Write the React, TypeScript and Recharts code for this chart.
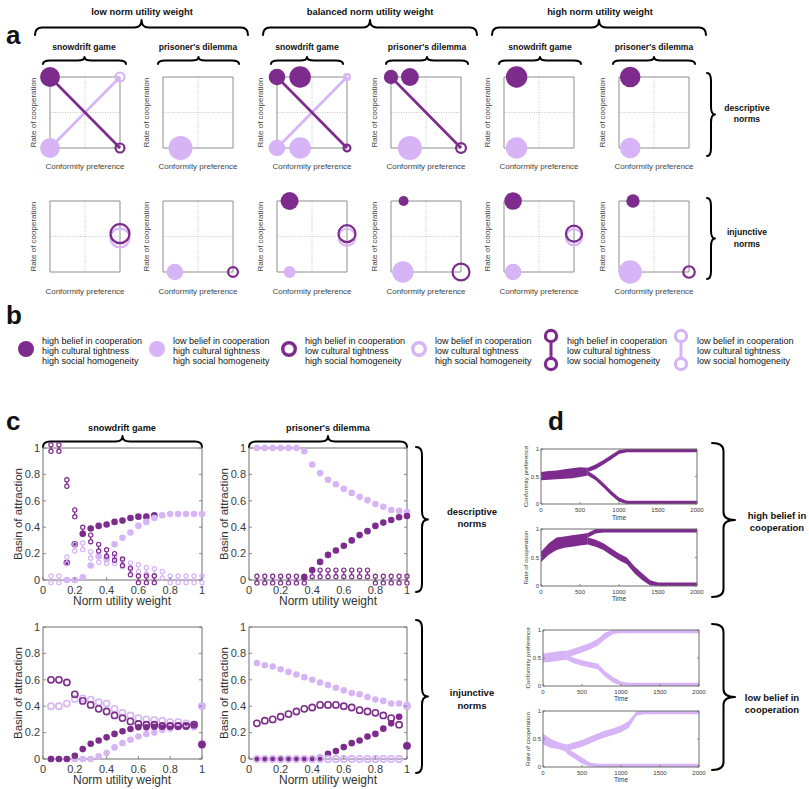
import React from 'react';
import { ScatterChart, Scatter, ComposedChart, Area, XAxis, YAxis, ZAxis, ReferenceLine } from 'recharts';

const DARK = '#7d2b8c';
const LIGHT = '#d7b4f6';
const AXIS = '#6f6f6f';
const INK = '#3a3a3a';
const FONT = '"Liberation Sans", Arial, Helvetica, sans-serif';
const NARROW = '"Liberation Sans Narrow", "Liberation Sans", Arial, sans-serif';

// ---------- panel a: equilibria (x = conformity preference, y = rate of cooperation, z = basin size)
type Kind = 'darkFilled' | 'lightFilled' | 'darkRing' | 'lightRing';
type Mark = { kind: Kind; x: number; y: number; z: number };
type Link = { kind: 'dark' | 'light'; pts: { x: number; y: number }[] };

const aLowSdDesc: Mark[] = [
  { kind: 'darkFilled', x: 0, y: 1, z: 0.69 },
  { kind: 'lightFilled', x: 0, y: 0, z: 0.69 },
  { kind: 'darkRing', x: 1, y: 0, z: 0.14 },
  { kind: 'lightRing', x: 1, y: 1, z: 0.14 },
];
const crossLinks: Link[] = [
  { kind: 'light', pts: [{ x: 0, y: 0 }, { x: 1, y: 1 }] },
  { kind: 'dark', pts: [{ x: 0, y: 1 }, { x: 1, y: 0 }] },
];
const darkLink: Link[] = [{ kind: 'dark', pts: [{ x: 0, y: 1 }, { x: 1, y: 0 }] }];
const aLowPdDesc: Mark[] = [{ kind: 'lightFilled', x: 0.25, y: 0, z: 1 }];
const aBalSdDesc: Mark[] = [
  { kind: 'darkFilled', x: 0, y: 1, z: 0.48 },
  { kind: 'darkFilled', x: 0.33, y: 1, z: 0.81 },
  { kind: 'lightFilled', x: 0, y: 0, z: 0.48 },
  { kind: 'lightFilled', x: 0.33, y: 0, z: 0.81 },
  { kind: 'darkRing', x: 1, y: 0, z: 0.08 },
  { kind: 'lightRing', x: 1, y: 1, z: 0.06 },
];
const aBalPdDesc: Mark[] = [
  { kind: 'darkFilled', x: 0, y: 1, z: 0.36 },
  { kind: 'darkFilled', x: 0.27, y: 1, z: 0.56 },
  { kind: 'lightFilled', x: 0.27, y: 0, z: 1 },
  { kind: 'darkRing', x: 1, y: 0, z: 0.17 },
];
const aHighSdDesc: Mark[] = [
  { kind: 'darkFilled', x: 0.18, y: 1, z: 0.8 },
  { kind: 'lightFilled', x: 0.18, y: 0, z: 0.8 },
];
const aHighPdDesc: Mark[] = [
  { kind: 'darkFilled', x: 0.16, y: 1, z: 0.74 },
  { kind: 'lightFilled', x: 0.16, y: 0, z: 0.74 },
];
const aLowSdInj: Mark[] = [
  { kind: 'lightRing', x: 1, y: 0.48, z: 0.63 },
  { kind: 'darkRing', x: 1, y: 0.54, z: 0.63 },
];
const aLowPdInj: Mark[] = [
  { kind: 'lightFilled', x: 0.17, y: 0, z: 0.48 },
  { kind: 'darkRing', x: 1, y: 0, z: 0.17 },
];
const aBalSdInj: Mark[] = [
  { kind: 'darkFilled', x: 0.18, y: 1, z: 0.56 },
  { kind: 'lightFilled', x: 0.18, y: 0, z: 0.25 },
  { kind: 'lightRing', x: 1, y: 0.49, z: 0.5 },
  { kind: 'darkRing', x: 1, y: 0.54, z: 0.5 },
];
const aBalPdInj: Mark[] = [
  { kind: 'darkFilled', x: 0.18, y: 1, z: 0.17 },
  { kind: 'lightFilled', x: 0.17, y: 0, z: 0.8 },
  { kind: 'darkRing', x: 1, y: 0, z: 0.5 },
];
const aHighSdInj: Mark[] = [
  { kind: 'darkFilled', x: 0.13, y: 1, z: 0.54 },
  { kind: 'lightFilled', x: 0.13, y: 0, z: 0.48 },
  { kind: 'lightRing', x: 1, y: 0.49, z: 0.45 },
  { kind: 'darkRing', x: 1, y: 0.54, z: 0.45 },
];
const aHighPdInj: Mark[] = [
  { kind: 'darkFilled', x: 0.2, y: 1, z: 0.31 },
  { kind: 'lightFilled', x: 0.16, y: 0, z: 0.95 },
  { kind: 'darkRing', x: 1, y: 0, z: 0.23 },
];

// ---------- panel c: basin of attraction vs norm utility weight
const weights = [0.05, 0.1, 0.15, 0.2, 0.25, 0.3, 0.35, 0.4, 0.45, 0.5, 0.55, 0.6, 0.65, 0.7, 0.75, 0.8, 0.85, 0.9, 0.95, 1];
type V = number | null;

const sdDescDarkFilled: V[] = [null, null, 0.13, 0.27, 0.35, 0.39, 0.41, 0.42, 0.44, 0.45, 0.47, 0.48, 0.48, 0.49, null, null, null, null, null, null];
const sdDescLightFilled: V[] = [null, null, 0, 0, 0.02, 0.11, 0.18, 0.16, 0.27, 0.32, 0.36, 0.41, 0.44, 0.47, 0.49, 0.5, 0.5, 0.5, 0.5, 0.5];
const sdDescDarkBell: V[] = [1, 1, 0.735, 0.505, 0.375, 0.315, 0.245, 0.205, 0.175, 0.135, 0.065, 0.005, 0.005, 0.005, null, null, null, null, null, null];
const sdDescLightBell: V[] = [0.005, 0.005, 0.15, 0.245, 0.255, 0.19, 0.16, 0.15, 0.15, 0.125, 0.105, 0.09, 0.07, 0.06, 0.04, 0.005, 0.005, 0.005, 0.005, 0.005];

const pdDescLightFilled: V[] = [1, 1, 1, 1, 1, 1, 0.975, 0.875, 0.81, 0.76, 0.725, 0.69, 0.66, 0.63, 0.605, 0.575, 0.555, 0.53, 0.525, 0.515];
const pdDescDarkFilled: V[] = [null, null, null, null, null, null, 0.02, 0.076, 0.137, 0.19, 0.223, 0.26, 0.3, 0.34, 0.37, 0.41, 0.435, 0.455, 0.475, 0.485];
const pdDescDarkBell: V[] = [0.003, 0.003, 0.003, 0.003, 0.003, 0.003, 0.003, 0.05, 0.05, 0.05, 0.05, 0.05, 0.05, 0.05, 0.05, 0.003, 0.003, 0.003, 0.003, 0.003];

const sdInjDarkRing: V[] = [0.6, 0.6, 0.58, 0.49, 0.44, 0.41, 0.38, 0.36, 0.33, 0.31, 0.285, 0.265, 0.26, 0.26, 0.25, 0.25, 0.25, 0.25, 0.26, 0.11];
const sdInjLightRing: V[] = [0.4, 0.4, 0.42, 0.455, 0.46, 0.45, 0.43, 0.42, 0.38, 0.35, 0.33, 0.31, 0.3, 0.295, 0.29, 0.28, 0.28, 0.27, 0.26, 0.4];
const sdInjDarkFilled: V[] = [0, 0, 0, 0.025, 0.075, 0.116, 0.14, 0.164, 0.19, 0.21, 0.227, 0.24, 0.24, 0.245, 0.25, 0.25, 0.25, 0.25, 0.26, 0.11];
const sdInjLightFilled: V[] = [0, 0, 0, 0, 0, 0, 0.02, 0.045, 0.088, 0.12, 0.146, 0.17, 0.19, 0.2, 0.22, 0.23, 0.24, 0.25, 0.24, 0.4];

const pdInjLightFilled: V[] = [0.727, 0.71, 0.7, 0.68, 0.66, 0.64, 0.62, 0.6, 0.58, 0.56, 0.54, 0.52, 0.5, 0.49, 0.47, 0.45, 0.44, 0.42, 0.42, 0.41];
const pdInjDarkRing: V[] = [0.27, 0.29, 0.3, 0.32, 0.34, 0.36, 0.38, 0.39, 0.41, 0.41, 0.41, 0.4, 0.39, 0.37, 0.36, 0.35, 0.33, 0.31, 0.26, 0.1];
const pdInjDarkFilled: V[] = [0, 0, 0, 0, 0, 0, 0, 0, 0.01, 0.04, 0.06, 0.09, 0.12, 0.14, 0.17, 0.19, 0.23, 0.27, 0.32, 0.1];
const pdInjLightRing: V[] = [0, 0, 0, 0, 0, 0, 0, 0, 0, 0, 0, 0, 0, 0, 0, 0, 0, 0, 0, 0.4];

// ---------- panel d: example trajectories, bands as [low, high]
type B = [number, number] | null;
const dTime = [0, 100, 200, 300, 400, 500, 600, 700, 800, 900, 1000, 1100, 1200, 1300, 1400, 1500, 1600, 1700, 1800, 1900, 2000];

const hiConfTrunk: B[] = [[0.43, 0.58], [0.44, 0.6], [0.45, 0.61], [0.46, 0.63], [0.47, 0.65], [0.49, 0.67], [0.52, 0.66], null, null, null, null, null, null, null, null, null, null, null, null, null, null];
const hiConfUp: B[] = [null, null, null, null, null, null, [0.58, 0.66], [0.63, 0.72], [0.72, 0.8], [0.81, 0.89], [0.91, 0.98], [0.94, 1], [0.94, 1], [0.94, 1], [0.94, 1], [0.94, 1], [0.94, 1], [0.94, 1], [0.94, 1], [0.94, 1], [0.94, 1]];
const hiConfDown: B[] = [null, null, null, null, null, null, [0.52, 0.6], [0.43, 0.51], [0.3, 0.38], [0.16, 0.24], [0.04, 0.12], [0, 0.06], [0, 0.06], [0, 0.06], [0, 0.06], [0, 0.06], [0, 0.06], [0, 0.06], [0, 0.06], [0, 0.06], [0, 0.06]];

const hiCoopTrunk: B[] = [[0.42, 0.6], [0.55, 0.75], [0.63, 0.85], [0.67, 0.87], [0.69, 0.89], [0.71, 0.91], [0.73, 0.93], null, null, null, null, null, null, null, null, null, null, null, null, null, null];
const hiCoopUp: B[] = [null, null, null, null, null, null, [0.85, 0.93], [0.92, 1], [0.94, 1], [0.94, 1], [0.94, 1], [0.94, 1], [0.94, 1], [0.94, 1], [0.94, 1], [0.94, 1], [0.94, 1], [0.94, 1], [0.94, 1], [0.94, 1], [0.94, 1]];
const hiCoopDown: B[] = [null, null, null, null, null, null, [0.73, 0.85], [0.69, 0.81], [0.63, 0.75], [0.54, 0.66], [0.45, 0.57], [0.38, 0.5], [0.22, 0.34], [0.1, 0.22], [0.01, 0.1], [0, 0.06], [0, 0.06], [0, 0.06], [0, 0.06], [0, 0.06], [0, 0.06]];

const loConfTrunk: B[] = [[0.42, 0.58], [0.43, 0.6], [0.45, 0.62], [0.47, 0.63], null, null, null, null, null, null, null, null, null, null, null, null, null, null, null, null, null];
const loConfUp: B[] = [null, null, null, [0.52, 0.63], [0.55, 0.67], [0.6, 0.72], [0.65, 0.77], [0.72, 0.84], [0.84, 0.96], [0.93, 1], [0.94, 1], [0.94, 1], [0.94, 1], [0.94, 1], [0.94, 1], [0.94, 1], [0.94, 1], [0.94, 1], [0.94, 1], [0.94, 1], [0.94, 1]];
const loConfDown: B[] = [null, null, null, [0.47, 0.57], [0.4, 0.5], [0.36, 0.46], [0.33, 0.43], [0.3, 0.4], [0.16, 0.26], [0.06, 0.16], [0.01, 0.08], [0, 0.06], [0, 0.06], [0, 0.06], [0, 0.06], [0, 0.06], [0, 0.06], [0, 0.06], [0, 0.06], [0, 0.06], [0, 0.06]];

const loCoopTrunk: B[] = [[0.4, 0.6], [0.34, 0.5], [0.32, 0.44], [0.27, 0.4], null, null, null, null, null, null, null, null, null, null, null, null, null, null, null, null, null];
const loCoopUp: B[] = [null, null, null, [0.29, 0.4], [0.32, 0.44], [0.36, 0.48], [0.42, 0.54], [0.48, 0.6], [0.53, 0.65], [0.57, 0.69], [0.62, 0.74], [0.7, 0.82], [0.92, 1], [0.94, 1], [0.94, 1], [0.94, 1], [0.94, 1], [0.94, 1], [0.94, 1], [0.94, 1], [0.94, 1]];
const loCoopDown: B[] = [null, null, null, [0.24, 0.34], [0.15, 0.26], [0.06, 0.17], [0.01, 0.08], [0, 0.06], [0, 0.06], [0, 0.06], [0, 0.06], [0, 0.06], [0, 0.06], [0, 0.06], [0, 0.06], [0, 0.06], [0, 0.06], [0, 0.06], [0, 0.06], [0, 0.06], [0, 0.06]];

// ---------- legend b
const legendItems: { kind: string; lines: string[] }[] = [
  { kind: 'darkFilled', lines: ['high belief in cooperation', 'high cultural tightness', 'high social homogeneity'] },
  { kind: 'lightFilled', lines: ['low belief in cooperation', 'high cultural tightness', 'high social homogeneity'] },
  { kind: 'darkRing', lines: ['high belief in cooperation', 'low cultural tightness', 'high social homogeneity'] },
  { kind: 'lightRing', lines: ['low belief in cooperation', 'low cultural tightness', 'high social homogeneity'] },
  { kind: 'darkBell', lines: ['high belief in cooperation', 'low cultural tightness', 'low social homogeneity'] },
  { kind: 'lightBell', lines: ['low belief in cooperation', 'low cultural tightness', 'low social homogeneity'] },
];

// ---------- helpers
const pts = (vals: V[]) =>
  weights.map((x, i) => ({ x, y: vals[i] })).filter((p) => p.y !== null);

const dRows = (trunk: B[], up: B[], down: B[]) =>
  dTime.map((t, i) => ({ t, trunk: trunk[i], up: up[i], down: down[i] }));

const bottomTick = (fs: number, len: number, dy: number) => (p: any) => (
  <g>
    <line x1={p.x} x2={p.x} y1={p.y} y2={p.y - len} stroke={AXIS} strokeWidth={0.8} />
    <text x={p.x} y={p.y + dy} textAnchor="middle" fontSize={fs} fill={INK} fontFamily={FONT}>
      {p.payload.value}
    </text>
  </g>
);
const leftTick = (fs: number, len: number, dx: number) => (p: any) => (
  <g>
    <line x1={p.x} x2={p.x + len} y1={p.y} y2={p.y} stroke={AXIS} strokeWidth={0.8} />
    <text x={p.x - dx} y={p.y} dy="0.35em" textAnchor="end" fontSize={fs} fill={INK} fontFamily={FONT}>
      {p.payload.value}
    </text>
  </g>
);
const topTick = (len: number) => (p: any) => (
  <line x1={p.x} x2={p.x} y1={p.y} y2={p.y + len} stroke={AXIS} strokeWidth={0.8} />
);
const rightTick = (len: number) => (p: any) => (
  <line x1={p.x} x2={p.x - len} y1={p.y} y2={p.y} stroke={AXIS} strokeWidth={0.8} />
);

const dotShape = (color: string) => (p: any) => <circle cx={p.cx} cy={p.cy} r={3.3} fill={color} />;
const ringShape = (color: string) => (p: any) => (
  <circle cx={p.cx} cy={p.cy} r={3.1} fill="none" stroke={color} strokeWidth={1.6} />
);
const bellShape = (color: string) => (p: any) => (
  <g>
    <line x1={p.cx} x2={p.cx} y1={p.cy - 1.3} y2={p.cy + 1.3} stroke={color} strokeWidth={1.3} />
    <circle cx={p.cx} cy={p.cy - 3.3} r={2.1} fill="none" stroke={color} strokeWidth={1.2} />
    <circle cx={p.cx} cy={p.cy + 3.3} r={2.1} fill="none" stroke={color} strokeWidth={1.2} />
  </g>
);

type FrameProps = {
  x: number; y: number; w: number; h: number;
  xDomain: [number, number]; xTicks: number[]; yTicks: number[];
  fs: number; tickLen: number; labelDy: number; labelDx: number;
  yAxisW: number; xAxisH: number;
  data?: any[];
  children: React.ReactNode;
};

function Framed(p: FrameProps) {
  const pad = 8;
  const right = 8;
  const width = p.yAxisW + p.w + 1 + right;
  const height = pad + p.h + p.xAxisH;
  const composed = !!p.data;
  const axes = [
    <XAxis key="xb" xAxisId="b" type="number" dataKey={composed ? 't' : 'x'} domain={p.xDomain} ticks={p.xTicks}
      interval={0} height={p.xAxisH} tickSize={0} tickMargin={0} tickLine={false}
      axisLine={{ stroke: AXIS }} tick={bottomTick(p.fs, p.tickLen, p.labelDy)} />,
    <XAxis key="xt" xAxisId="t" orientation="top" type="number" domain={p.xDomain} ticks={p.xTicks}
      interval={0} height={1} tickSize={0} tickMargin={0} tickLine={false} allowDataOverflow
      axisLine={{ stroke: AXIS }} tick={topTick(p.tickLen)} />,
    <YAxis key="yl" yAxisId="l" type="number" dataKey={composed ? undefined : 'y'} domain={[0, 1]} ticks={p.yTicks}
      interval={0} width={p.yAxisW} tickSize={0} tickMargin={0} tickLine={false}
      axisLine={{ stroke: AXIS }} tick={leftTick(p.fs, p.tickLen, p.labelDx)} />,
    <YAxis key="yr" yAxisId="r" orientation="right" type="number" domain={[0, 1]} ticks={p.yTicks}
      interval={0} width={1} tickSize={0} tickMargin={0} tickLine={false} allowDataOverflow
      axisLine={{ stroke: AXIS }} tick={rightTick(p.tickLen)} />,
  ];
  return (
    <div style={{ position: 'absolute', left: p.x - p.yAxisW, top: p.y - pad }}>
      {composed ? (
        <ComposedChart width={width} height={height} data={p.data} margin={{ top: pad - 1, right, bottom: 0, left: 0 }}>
          {axes}
          {p.children}
        </ComposedChart>
      ) : (
        <ScatterChart width={width} height={height} margin={{ top: pad - 1, right, bottom: 0, left: 0 }}>
          {axes}
          {p.children}
        </ScatterChart>
      )}
    </div>
  );
}

function BasinPlot({ x, y, w, series }: { x: number; y: number; w: number; series: { kind: string; vals: V[] }[] }) {
  const shapeFor = (k: string) => {
    const color = k.startsWith('dark') ? DARK : LIGHT;
    if (k.endsWith('Filled')) return dotShape(color);
    if (k.endsWith('Ring')) return ringShape(color);
    return bellShape(color);
  };
  return (
    <Framed x={x} y={y} w={w} h={132} xDomain={[0, 1]} xTicks={[0, 0.2, 0.4, 0.6, 0.8, 1]}
      yTicks={[0, 0.2, 0.4, 0.6, 0.8, 1]} fs={11} tickLen={3} labelDy={13.5} labelDx={3} yAxisW={40} xAxisH={22}>
      {series.map((s, i) => (
        <Scatter key={i} xAxisId="b" yAxisId="l" data={pts(s.vals)} shape={shapeFor(s.kind)} isAnimationActive={false} />
      ))}
    </Framed>
  );
}

function TrajPlot({ x, y, h, color, rows }: { x: number; y: number; h: number; color: string; rows: any[] }) {
  return (
    <Framed x={x} y={y} w={156} h={h} xDomain={[0, 2000]} xTicks={[0, 500, 1000, 1500, 2000]} yTicks={[0, 0.5, 1]}
      fs={6} tickLen={2} labelDy={7.5} labelDx={2} yAxisW={20} xAxisH={12} data={rows}>
      {['trunk', 'up', 'down'].map((k) => (
        <Area key={k} xAxisId="b" yAxisId="l" dataKey={k} type="linear" stroke="none" fill={color} fillOpacity={1}
          connectNulls={false} isAnimationActive={false} dot={false} activeDot={false} />
      ))}
    </Framed>
  );
}

function Phase({ left, top, marks, links = [] }: { left: number; top: number; marks: Mark[]; links?: Link[] }) {
  const pad = 16;
  const order: Kind[] = ['lightFilled', 'darkFilled', 'lightRing', 'darkRing'];
  return (
    <div style={{ position: 'absolute', left: left - pad, top: top - pad }}>
      <ScatterChart width={70 + 2 * pad} height={71 + 2 * pad} margin={{ top: pad, right: pad, bottom: pad, left: pad }}>
        <XAxis type="number" dataKey="x" domain={[0, 1]} hide />
        <YAxis type="number" dataKey="y" domain={[0, 1]} hide />
        <ZAxis type="number" dataKey="z" domain={[0, 1]} range={[0, 450]} />
        <ReferenceLine x={0.5} stroke="#c4c4c4" strokeDasharray="1 1.5" />
        <ReferenceLine y={0.5} stroke="#c4c4c4" strokeDasharray="1 1.5" />
        <ReferenceLine x={0} stroke="#8e8e8e" />
        <ReferenceLine x={1} stroke="#8e8e8e" />
        <ReferenceLine y={0} stroke="#8e8e8e" />
        <ReferenceLine y={1} stroke="#8e8e8e" />
        {links.map((l, i) => (
          <Scatter key={'l' + i} data={l.pts} line={{ stroke: l.kind === 'dark' ? DARK : LIGHT, strokeWidth: 2.6 }}
            shape={() => <g />} isAnimationActive={false} />
        ))}
        {order.map((k) => {
          const data = marks.filter((m) => m.kind === k);
          if (!data.length) return null;
          const color = k.startsWith('dark') ? DARK : LIGHT;
          const ring = k.endsWith('Ring');
          return (
            <Scatter key={k} data={data} shape="circle" fill={ring ? '#ffffff' : color} fillOpacity={ring ? 0 : 1}
              stroke={ring ? color : 'none'} strokeWidth={ring ? 2.2 : 0} isAnimationActive={false} />
          );
        })}
      </ScatterChart>
    </div>
  );
}

const hBrace = (x1: number, x2: number, y: number, h: number) => {
  const yc = y + h / 2;
  const xm = (x1 + x2) / 2;
  const r = Math.min(7, (x2 - x1) / 6);
  return `M${x1},${y + h} Q${x1},${yc} ${x1 + r},${yc} L${xm - r},${yc} Q${xm},${yc} ${xm},${y} Q${xm},${yc} ${xm + r},${yc} L${x2 - r},${yc} Q${x2},${yc} ${x2},${y + h}`;
};
const vBrace = (x: number, y1: number, y2: number, w: number) => {
  const xc = x + w / 2;
  const ym = (y1 + y2) / 2;
  const r = Math.min(8, (y2 - y1) / 6);
  return `M${x},${y1} Q${xc},${y1} ${xc},${y1 + r} L${xc},${ym - r} Q${xc},${ym} ${x + w},${ym} Q${xc},${ym} ${xc},${ym + r} L${xc},${y2 - r} Q${xc},${y2} ${x},${y2}`;
};

const T = (props: any) => <text fontFamily={FONT} fill="#111" textAnchor="middle" {...props} />;

function Overlay() {
  const braces = [
    hBrace(35, 248, 20, 15), hBrace(263, 477, 20, 15), hBrace(492, 706, 20, 15),
    hBrace(43, 126, 57, 7), hBrace(158, 239, 57, 7), hBrace(271, 343, 57, 7),
    hBrace(386, 468, 57, 7), hBrace(499, 581, 57, 7), hBrace(613, 695, 57, 7),
    vBrace(707, 73, 156, 8), vBrace(707, 198, 279, 8),
    hBrace(43, 202, 436, 11), hBrace(249, 407, 436, 11),
    vBrace(416, 447, 592, 12), vBrace(416, 620, 773, 12),
    vBrace(712, 443, 597, 23), vBrace(712, 624, 770, 23),
  ];
  const cols = [50, 163, 277, 391, 504, 619];
  const legendX = [26, 157, 289, 419, 551, 681];
  return (
    <svg width={809} height={789} style={{ position: 'absolute', left: 0, top: 0 }}>
      {braces.map((d, i) => (
        <path key={i} d={d} fill="none" stroke="#000" strokeWidth={2} strokeLinejoin="round" strokeLinecap="round" />
      ))}
      <T x={6} y={44} textAnchor="start" fontSize={26} fontWeight={700}>a</T>
      <T x={6} y={324} textAnchor="start" fontSize={26} fontWeight={700}>b</T>
      <T x={6} y={430} textAnchor="start" fontSize={26} fontWeight={700}>c</T>
      <T x={548} y={430} textAnchor="start" fontSize={26} fontWeight={700}>d</T>

      <T x={142} y={15} fontSize={9.4} fontWeight={700}>low norm utility weight</T>
      <T x={370} y={15} fontSize={9.4} fontWeight={700}>balanced norm utility weight</T>
      <T x={600} y={15} fontSize={9.4} fontWeight={700}>high norm utility weight</T>
      {['snowdrift game', "prisoner's dilemma", 'snowdrift game', "prisoner's dilemma", 'snowdrift game', "prisoner's dilemma"].map((s, i) => (
        <T key={i} x={[84, 198, 307, 427, 540, 654][i]} y={50} fontSize={8.6} fontWeight={700}>{s}</T>
      ))}
      {cols.map((cx) =>
        [77, 201].map((ry) => (
          <g key={cx + '-' + ry}>
            <T transform={`translate(${cx - 14},${ry + 35.5}) rotate(-90)`} fontSize={8} fill="#444">Rate of cooperation</T>
            <T x={cx + 35} y={ry === 77 ? 169 : 294} fontSize={8} fill="#444">Conformity preference</T>
          </g>
        ))
      )}
      <T x={747} y={111} fontSize={8.6} fontWeight={700}>descriptive</T>
      <T x={747} y={122} fontSize={8.6} fontWeight={700}>norms</T>
      <T x={747} y={235} fontSize={8.6} fontWeight={700}>injunctive</T>
      <T x={747} y={247} fontSize={8.6} fontWeight={700}>norms</T>

      {legendItems.map((it, i) => {
        const x = legendX[i];
        const color = it.kind.startsWith('dark') ? DARK : LIGHT;
        let mark;
        if (it.kind.endsWith('Filled')) mark = <circle cx={x} cy={349} r={8} fill={color} />;
        else if (it.kind.endsWith('Ring')) mark = <circle cx={x} cy={349} r={6.3} fill="none" stroke={color} strokeWidth={3.4} />;
        else
          mark = (
            <g>
              <line x1={x} x2={x} y1={341} y2={358} stroke={color} strokeWidth={3} />
              <circle cx={x} cy={336} r={5.6} fill="#fff" stroke={color} strokeWidth={3.2} />
              <circle cx={x} cy={364} r={5.6} fill="#fff" stroke={color} strokeWidth={3.2} />
            </g>
          );
        return (
          <g key={i}>
            {mark}
            {it.lines.map((s, j) => (
              <text key={j} x={x + 16} y={344 + j * 10} fontSize={9} fontFamily={NARROW} fill="#111">{s}</text>
            ))}
          </g>
        );
      })}

      <T x={122} y={431} fontSize={9.2} fontWeight={700}>snowdrift game</T>
      <T x={328} y={431} fontSize={9.2} fontWeight={700}>prisoner's dilemma</T>
      <T x={472} y={515} fontSize={9.5} fontWeight={700}>descriptive</T>
      <T x={472} y={527} fontSize={9.5} fontWeight={700}>norms</T>
      <T x={472} y={696} fontSize={9.5} fontWeight={700}>injunctive</T>
      <T x={472} y={709} fontSize={9.5} fontWeight={700}>norms</T>
      <T x={777} y={519} fontSize={9.5} fontWeight={700}>high belief in</T>
      <T x={777} y={531} fontSize={9.5} fontWeight={700}>cooperation</T>
      <T x={772} y={701} fontSize={9.5} fontWeight={700}>low belief in</T>
      <T x={772} y={713} fontSize={9.5} fontWeight={700}>cooperation</T>

      <T transform="translate(22,514) rotate(-90)" fontSize={11.5} fill="#333">Basin of attraction</T>
      <T transform="translate(228,514) rotate(-90)" fontSize={11.5} fill="#333">Basin of attraction</T>
      <T transform="translate(22,693) rotate(-90)" fontSize={11.5} fill="#333">Basin of attraction</T>
      <T transform="translate(228,693) rotate(-90)" fontSize={11.5} fill="#333">Basin of attraction</T>
      <T x={122} y={605} fontSize={12} fill="#333">Norm utility weight</T>
      <T x={328} y={605} fontSize={12} fill="#333">Norm utility weight</T>
      <T x={122} y={784} fontSize={12} fill="#333">Norm utility weight</T>
      <T x={328} y={784} fontSize={12} fill="#333">Norm utility weight</T>

      <T transform="translate(528,476.5) rotate(-90)" fontSize={6.2} fill="#333">Conformity preference</T>
      <T transform="translate(528,557.5) rotate(-90)" fontSize={6.2} fill="#333">Rate of cooperation</T>
      <T transform="translate(530,658) rotate(-90)" fontSize={6.2} fill="#333">Conformity preference</T>
      <T transform="translate(530,739) rotate(-90)" fontSize={6.2} fill="#333">Rate of cooperation</T>
      <T x={619} y={519.5} fontSize={6.5} fill="#333">Time</T>
      <T x={619} y={601} fontSize={6.5} fill="#333">Time</T>
      <T x={621} y={701} fontSize={6.5} fill="#333">Time</T>
      <T x={621} y={782} fontSize={6.5} fill="#333">Time</T>
    </svg>
  );
}

export default function App() {
  const cols = [50, 163, 277, 391, 504, 619];
  const descRow = [aLowSdDesc, aLowPdDesc, aBalSdDesc, aBalPdDesc, aHighSdDesc, aHighPdDesc];
  const descLinks = [crossLinks, [], crossLinks, darkLink, [], []];
  const injRow = [aLowSdInj, aLowPdInj, aBalSdInj, aBalPdInj, aHighSdInj, aHighPdInj];
  return (
    <div style={{ position: 'absolute', left: 0, top: 0, width: 809, height: 789, background: '#fff', overflow: 'hidden' }}>
      <Overlay />
      {cols.map((cx, i) => (
        <Phase key={'d' + i} left={cx} top={77} marks={descRow[i]} links={descLinks[i]} />
      ))}
      {cols.map((cx, i) => (
        <Phase key={'i' + i} left={cx} top={201} marks={injRow[i]} />
      ))}

      <BasinPlot x={43} y={448} w={159} series={[
        { kind: 'darkFilled', vals: sdDescDarkFilled },
        { kind: 'lightFilled', vals: sdDescLightFilled },
        { kind: 'lightBell', vals: sdDescLightBell },
        { kind: 'darkBell', vals: sdDescDarkBell },
      ]} />
      <BasinPlot x={249} y={448} w={158} series={[
        { kind: 'lightFilled', vals: pdDescLightFilled },
        { kind: 'darkFilled', vals: pdDescDarkFilled },
        { kind: 'darkBell', vals: pdDescDarkBell },
      ]} />
      <BasinPlot x={43} y={627} w={159} series={[
        { kind: 'lightFilled', vals: sdInjLightFilled },
        { kind: 'darkFilled', vals: sdInjDarkFilled },
        { kind: 'lightRing', vals: sdInjLightRing },
        { kind: 'darkRing', vals: sdInjDarkRing },
      ]} />
      <BasinPlot x={249} y={627} w={158} series={[
        { kind: 'lightFilled', vals: pdInjLightFilled },
        { kind: 'darkFilled', vals: pdInjDarkFilled },
        { kind: 'lightRing', vals: pdInjLightRing },
        { kind: 'darkRing', vals: pdInjDarkRing },
      ]} />

      <TrajPlot x={541} y={449} h={55} color={DARK} rows={dRows(hiConfTrunk, hiConfUp, hiConfDown)} />
      <TrajPlot x={541} y={529} h={57} color={DARK} rows={dRows(hiCoopTrunk, hiCoopUp, hiCoopDown)} />
      <TrajPlot x={543} y={630} h={56} color={LIGHT} rows={dRows(loConfTrunk, loConfUp, loConfDown)} />
      <TrajPlot x={543} y={711} h={56} color={LIGHT} rows={dRows(loCoopTrunk, loCoopUp, loCoopDown)} />
    </div>
  );
}
